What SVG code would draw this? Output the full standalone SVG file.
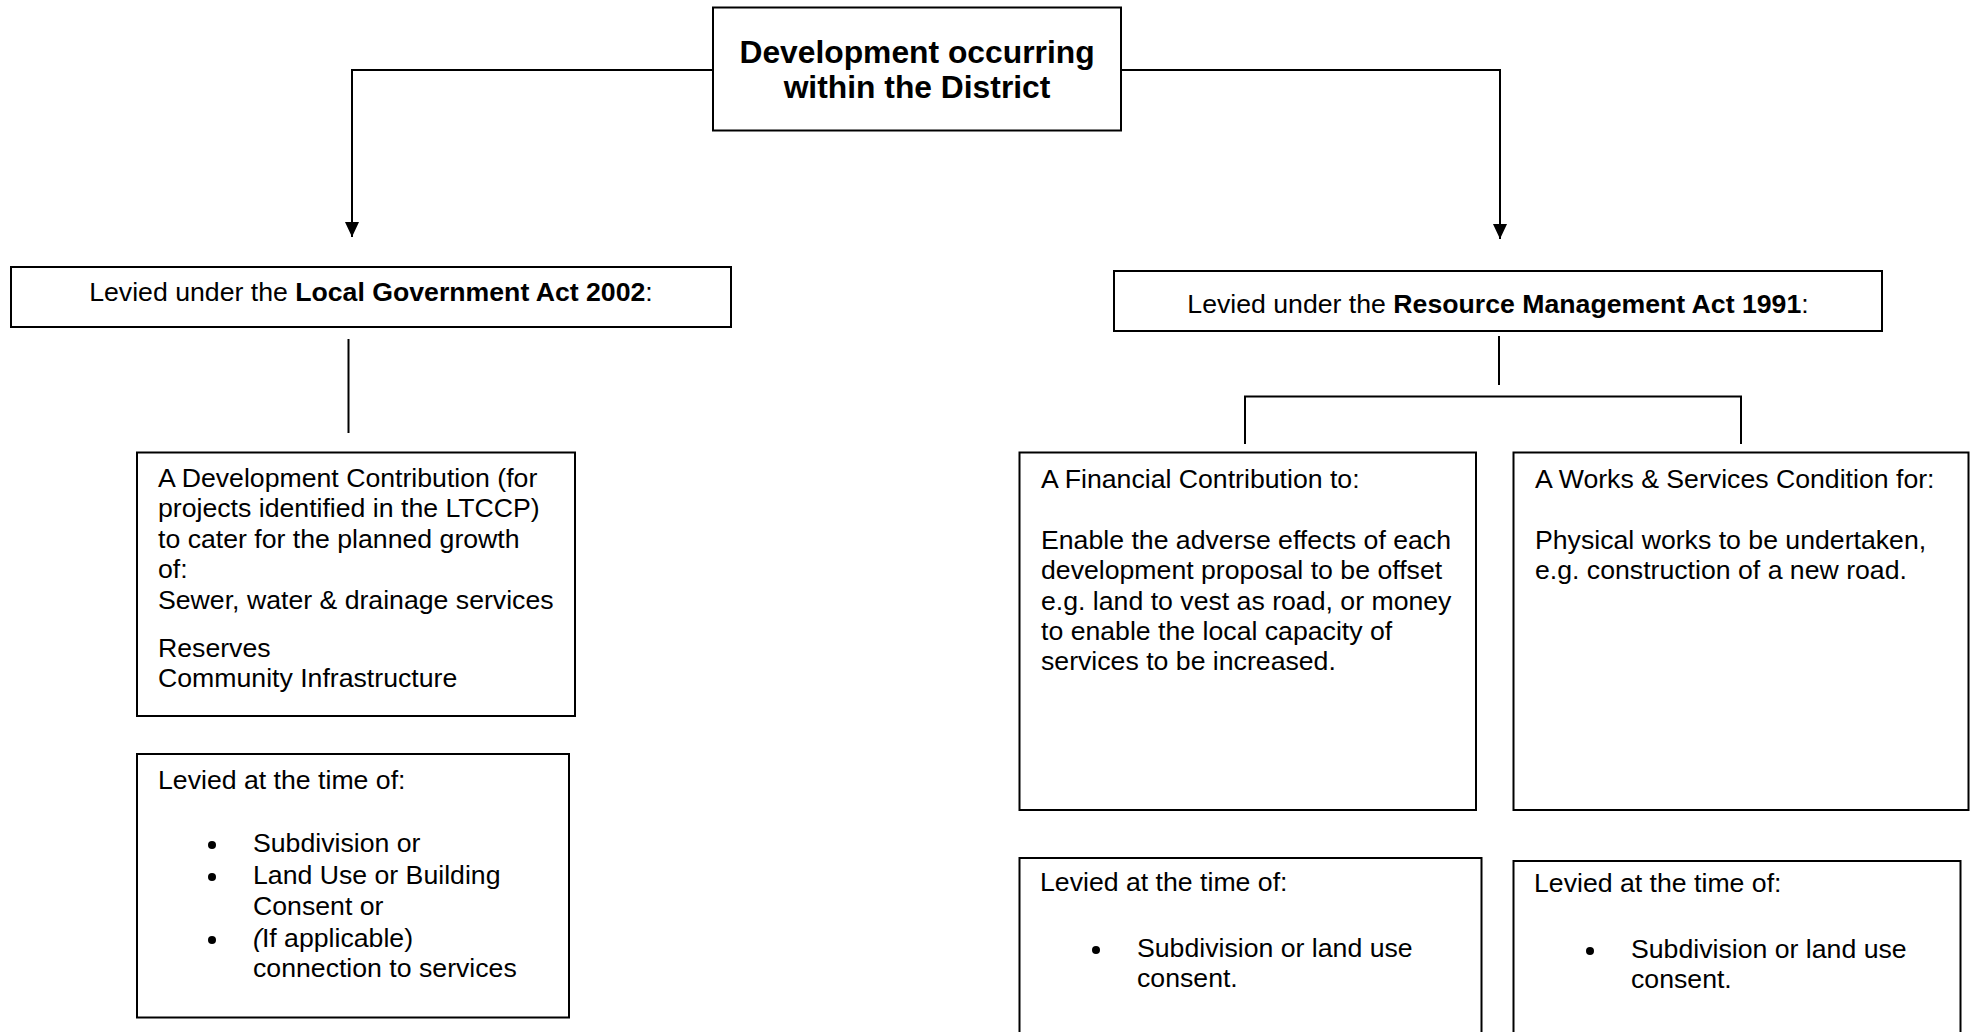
<svg xmlns="http://www.w3.org/2000/svg" width="1970" height="1032" viewBox="0 0 1970 1032">
<style>
.box{fill:#fff;stroke:#000;stroke-width:2}
.t{font-family:"Liberation Sans",Arial,sans-serif;font-size:26.67px;fill:#000}
.title{font-family:"Liberation Sans",Arial,sans-serif;font-size:31.8px;font-weight:bold;fill:#000}
.b{font-weight:bold}
.conn{fill:none;stroke:#000;stroke-width:2}
.dot{fill:#000}
</style>
<defs>
<marker id="arrow" markerUnits="userSpaceOnUse" markerWidth="16" markerHeight="16" viewBox="0 0 16 16" refX="15" refY="8" orient="auto">
<path d="M0,1 L15,8 L0,15 Z" fill="#000"/>
</marker>
</defs>
<rect width="1970" height="1032" fill="#fff"/>
<g id="connectors">
<path class="conn" d="M713,70 H352 V237" marker-end="url(#arrow)"/>
<path class="conn" d="M1121,70 H1500 V239" marker-end="url(#arrow)"/>
<line class="conn" x1="348.5" y1="339" x2="348.5" y2="433"/>
<line class="conn" x1="1499" y1="336" x2="1499" y2="385"/>
<path class="conn" d="M1245,444 V396.5 H1741 V444" stroke="#333"/>
</g>
<g id="node-top">
<rect class="box" x="713" y="7.5" width="408" height="123" stroke-width="2.5"/>
<text class="title" x="917" y="63" text-anchor="middle">Development occurring</text>
<text class="title" x="917" y="98" text-anchor="middle">within the District</text>
</g>
<g id="node-lga">
<rect class="box" x="11" y="267" width="720" height="60"/>
<text class="t" x="371" y="301" text-anchor="middle">Levied under the <tspan class="b">Local Government Act 2002</tspan>:</text>
</g>
<g id="node-rma">
<rect class="box" x="1114" y="271" width="768" height="60"/>
<text class="t" x="1498" y="313" text-anchor="middle">Levied under the <tspan class="b">Resource Management Act 1991</tspan>:</text>
</g>
<g id="node-devcontrib">
<rect class="box" x="137" y="452.5" width="438" height="263.5"/>
<text class="t" x="158" y="487">A Development Contribution (for</text>
<text class="t" x="158" y="517">projects identified in the LTCCP)</text>
<text class="t" x="158" y="548">to cater for the planned growth</text>
<text class="t" x="158" y="578">of:</text>
<text class="t" x="158" y="608.5">Sewer, water &amp; drainage services</text>
<text class="t" x="158" y="657">Reserves</text>
<text class="t" x="158" y="687">Community Infrastructure</text>
</g>
<g id="node-lga-time">
<rect class="box" x="137" y="754" width="432" height="263.5"/>
<text class="t" x="158" y="789">Levied at the time of:</text>
<circle class="dot" cx="212" cy="845" r="4"/>
<text class="t" x="253" y="852">Subdivision or</text>
<circle class="dot" cx="212" cy="877" r="4"/>
<text class="t" x="253" y="884">Land Use or Building</text>
<text class="t" x="253" y="915">Consent or</text>
<circle class="dot" cx="212" cy="940" r="4"/>
<text class="t" x="253" y="947"><tspan font-style="italic">(</tspan>If applicable)</text>
<text class="t" x="253" y="977">connection to services</text>
</g>
<g id="node-financial">
<rect class="box" x="1019.5" y="452.5" width="456.5" height="357.5"/>
<text class="t" x="1041" y="488">A Financial Contribution to:</text>
<text class="t" x="1041" y="549">Enable the adverse effects of each</text>
<text class="t" x="1041" y="579">development proposal to be offset</text>
<text class="t" x="1041" y="609.5">e.g. land to vest as road, or money</text>
<text class="t" x="1041" y="640">to enable the local capacity of</text>
<text class="t" x="1041" y="670">services to be increased.</text>
</g>
<g id="node-works">
<rect class="box" x="1513.5" y="452.5" width="455" height="357.5"/>
<text class="t" x="1535" y="488">A Works &amp; Services Condition for:</text>
<text class="t" x="1535" y="549">Physical works to be undertaken,</text>
<text class="t" x="1535" y="579">e.g. construction of a new road.</text>
</g>
<g id="node-financial-time">
<rect class="box" x="1019.5" y="858" width="462" height="200"/>
<text class="t" x="1040" y="891">Levied at the time of:</text>
<circle class="dot" cx="1096" cy="950" r="4"/>
<text class="t" x="1137" y="957">Subdivision or land use</text>
<text class="t" x="1137" y="987">consent.</text>
</g>
<g id="node-works-time">
<rect class="box" x="1513.5" y="861" width="447" height="200"/>
<text class="t" x="1534" y="892">Levied at the time of:</text>
<circle class="dot" cx="1590" cy="951" r="4"/>
<text class="t" x="1631" y="958">Subdivision or land use</text>
<text class="t" x="1631" y="988">consent.</text>
</g>
</svg>
